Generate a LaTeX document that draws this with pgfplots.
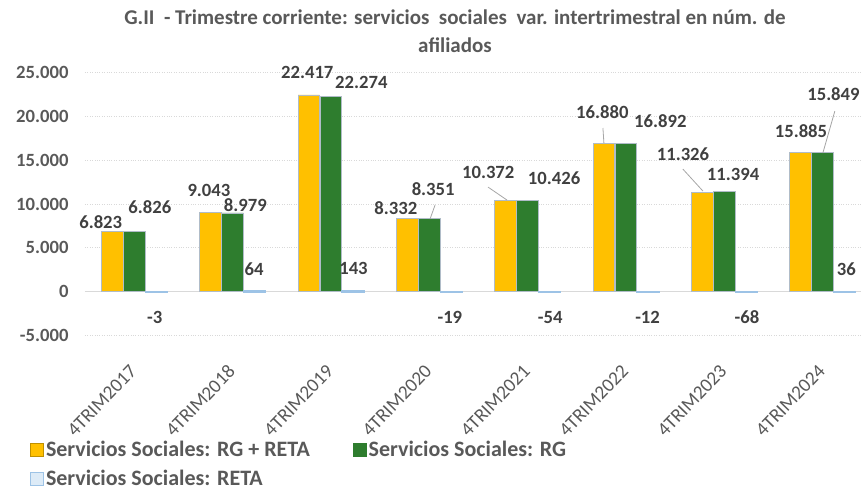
\documentclass[border=0pt]{standalone}
\usepackage{fontspec}
\setmainfont{Carlito}
\usepackage{pgfplots}
\pgfplotsset{compat=1.18}
\pgfplotsset{/pgf/number format/assume math mode=true, /pgf/number format/1000 sep={.}}
\definecolor{cyel}{HTML}{FFC000}
\definecolor{colive}{HTML}{BF9000}
\definecolor{cgrn}{HTML}{2E7D2E}
\definecolor{cblu}{HTML}{DDEBF7}
\definecolor{cblub}{HTML}{9DC3E6}
\definecolor{cbord}{HTML}{B0BCC8}
\definecolor{ctxt}{HTML}{595959}
\definecolor{clab}{HTML}{404040}
\definecolor{cgrid}{HTML}{D9D9D9}
\definecolor{clead}{HTML}{A6A6A6}
\newcommand{\fs}{\fontsize{18.67}{21}\selectfont}
\newcommand{\fx}{\fontsize{19.3}{22}\selectfont}
\newcommand{\fl}{\fontsize{22}{25}\selectfont}
\newcommand{\ft}{\fontsize{21}{24}\selectfont}
\begin{document}
\begin{tikzpicture}
\useasboundingbox (-85pt,-154.3pt) rectangle (776pt,335.7pt);
\begin{axis}[
 at={(0pt,0pt)}, anchor=south west,
 scale only axis, width=776pt, height=263.4pt,
 xmin=-0.5, xmax=7.39, ymin=-5000, ymax=25000,
 scaled y ticks=false,
 ytick={-5000,0,5000,10000,15000,20000,25000},
 xtick={0,1,2,3,4,5,6,7},
 xticklabels={4TRIM2017,4TRIM2018,4TRIM2019,4TRIM2020,4TRIM2021,4TRIM2022,4TRIM2023,4TRIM2024},
 axis line style={draw=none}, major tick length=0pt,
 ymajorgrids, grid style={cgrid, dotted, line width=0.9pt},
 extra y ticks={0}, extra y tick labels={},
 extra y tick style={grid style={solid, cgrid, line width=1pt}},
 yticklabel style={font=\fs\bfseries, text=ctxt, xshift=-13pt},
 xticklabel style={font=\fx, text=ctxt, rotate=46, anchor=east, inner sep=0pt, xshift=-24pt, yshift=-22pt},
 clip=false,
 legend columns=2,
 legend cell align=left,
 legend style={at={(-0.0747,-0.385)}, anchor=north west, draw=none, fill=none,
   font=\fl\bfseries, text=ctxt,
   /tikz/every even column/.append style={column sep=41pt}, row sep=8pt},
 legend image code/.code={\draw[#1] (0pt,-7pt) rectangle (13pt,6pt);},
]
\addplot[ybar, bar width=0.22, bar shift=-0.224, fill=cyel, draw=cbord, line width=0.8pt, forget plot]
 coordinates {(0,6823) (1,9043) (2,22417) (3,8332) (4,10372) (5,16880) (6,11326) (7,15885)};
\addplot[ybar, bar width=0.22, bar shift=0, fill=cgrn, draw=cbord, line width=0.8pt, forget plot]
 coordinates {(0,6826) (1,8979) (2,22274) (3,8351) (4,10426) (5,16892) (6,11394) (7,15849)};
\addplot[ybar, bar width=0.22, bar shift=0.224, fill=cblu, draw=cblub, line width=1.6pt, forget plot]
 coordinates {(0,-3) (1,64) (2,143) (3,-19) (4,-54) (5,-12) (6,-68) (7,36)};
\addplot[only marks, mark=*, mark size=0pt, mark options={draw=none, fill=none},
  nodes near coords, point meta=explicit symbolic,
  nodes near coords style={anchor=center, font=\fs\bfseries, text=clab}, forget plot]
 table[meta=lab] {
x y lab
-0.34 7939 6.823
0.16 9647 6.826
0.21 -2882 -3
0.76 11584 9.043
1.13 9875 8.979
1.22 2585 64
1.76 25024 22.417
2.31 23885 22.274
2.23 2699 143
2.66 9533 8.332
3.04 11698 8.351
3.21 -2882 -19
3.60 13634 10.372
4.27 12950 10.426
4.23 -2882 -54
4.76 20468 16.880
5.35 19443 16.892
5.22 -2882 -12
5.58 15684 11.326
6.09 13406 11.394
6.23 -2882 -68
6.78 18304 15.885
7.11 22518 15.849
7.24 2585 36
};
\draw[clead, line width=0.8pt] (axis cs:3.059,9875) -- (axis cs:3.008,8280);
\draw[clead, line width=0.8pt] (axis cs:3.598,11925) -- (axis cs:3.791,10445);
\draw[clead, line width=0.8pt] (axis cs:4.766,18655) -- (axis cs:4.776,16947);
\draw[clead, line width=0.8pt] (axis cs:5.579,13976) -- (axis cs:5.783,11470);
\draw[clead, line width=0.8pt] (axis cs:7.124,20581) -- (axis cs:7.002,15798);
\addlegendimage{fill=cyel, draw=colive, line width=0.8pt}
\addlegendentry{Servicios Sociales: RG + RETA}
\addlegendimage{fill=cgrn, draw=cgrn, line width=0.8pt}
\addlegendentry{Servicios Sociales: RG}
\addlegendimage{fill=cblu, draw=cblub, line width=0.8pt}
\addlegendentry{Servicios Sociales: RETA}
\end{axis}
\node[font=\ft\bfseries, text=ctxt, align=center, inner sep=0pt] at (370pt,304.7pt)
 {G.II\ \ - Trimestre corriente: servicios\ \ sociales\ \ var. intertrimestral en núm. de\\[4pt] afiliados};
\end{tikzpicture}
\end{document}
